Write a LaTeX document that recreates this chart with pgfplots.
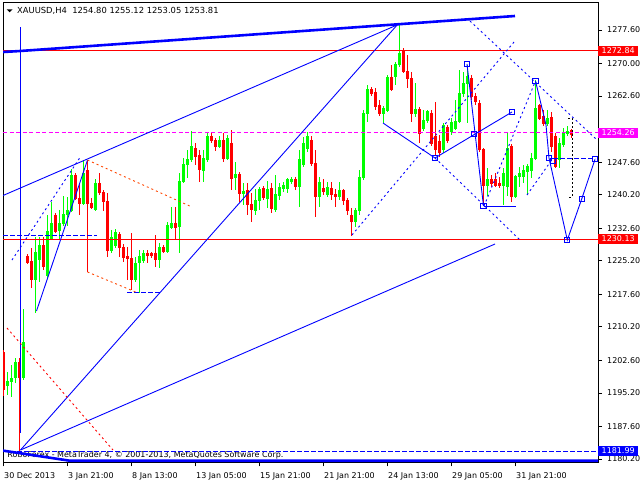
\documentclass[border=0pt]{standalone}
\usepackage{fontspec}
\setmainfont{DejaVu Sans}
\usepackage{pgfplots}
\usepackage{pgfplotstable}
\pgfplotsset{compat=1.18}
\definecolor{mtgreen}{RGB}{0,255,0}
\definecolor{mtred}{RGB}{255,0,0}
\definecolor{mtblue}{RGB}{0,0,255}
\definecolor{mtmag}{RGB}{255,0,255}
\definecolor{mtorange}{RGB}{255,69,0}

% bullish candles: x o h l c
\pgfplotstableread{
x o h l c
7.5 1197.0 1200.0 1194.7 1197.7
11.5 1197.7 1201.6 1194.3 1198.6
15.5 1198.6 1203.1 1197.5 1202.2
23.5 1198.6 1214.3 1198.2 1206.6
35.5 1220.9 1230.5 1213.4 1227.0
39.5 1225.4 1230.6 1220.5 1228.6
47.5 1221.8 1235.6 1221.3 1231.8
51.5 1230.3 1238.6 1229.9 1233.6
59.5 1232.0 1236.7 1229.9 1233.6
63.5 1233.6 1239.8 1233.1 1235.8
67.5 1235.6 1239.8 1233.0 1236.6
71.5 1236.6 1246.0 1236.3 1244.5
83.5 1238.3 1248.1 1237.9 1245.1
95.5 1236.9 1243.7 1236.5 1242.8
111.5 1227.5 1232.2 1227.0 1230.5
115.5 1228.6 1232.4 1228.1 1231.6
135.5 1220.9 1226.1 1220.4 1224.6
139.5 1224.8 1227.7 1218.0 1226.3
143.5 1225.2 1227.7 1224.6 1226.9
159.5 1225.6 1229.2 1223.5 1228.3
167.5 1227.3 1234.1 1227.0 1233.3
171.5 1232.8 1237.5 1232.4 1233.6
179.5 1233.0 1245.1 1226.9 1243.2
183.5 1243.2 1248.5 1242.9 1247.0
187.5 1247.0 1250.4 1244.0 1248.1
191.5 1248.1 1254.7 1247.6 1251.1
203.5 1245.8 1250.4 1243.2 1248.5
207.5 1248.1 1254.5 1247.6 1253.5
219.5 1251.1 1253.5 1250.8 1252.6
227.5 1248.5 1253.8 1248.1 1253.0
235.5 1244.2 1247.7 1241.3 1244.7
243.5 1240.5 1242.8 1237.9 1240.9
255.5 1236.7 1241.4 1235.6 1238.8
259.5 1238.8 1242.0 1236.7 1241.5
267.5 1239.4 1243.4 1237.1 1241.4
275.5 1236.9 1244.8 1236.4 1240.2
279.5 1240.0 1242.8 1239.0 1241.8
283.5 1241.7 1243.2 1240.9 1242.2
287.5 1241.7 1243.9 1240.5 1243.6
291.5 1243.3 1244.3 1242.6 1243.7
299.5 1242.0 1250.4 1237.4 1248.3
303.5 1247.0 1253.4 1246.5 1251.9
307.5 1250.8 1254.5 1249.9 1253.5
319.5 1239.8 1244.3 1237.5 1242.9
327.5 1240.2 1243.2 1239.7 1241.8
339.5 1239.8 1243.2 1239.0 1241.1
355.5 1234.1 1237.1 1232.8 1236.7
359.5 1236.7 1245.8 1235.6 1244.2
363.5 1244.2 1259.4 1243.6 1258.7
367.5 1258.7 1265.1 1256.8 1264.1
383.5 1258.7 1260.4 1256.4 1259.8
387.5 1259.4 1267.4 1259.0 1266.9
395.5 1267.0 1270.3 1265.1 1269.7
399.5 1269.7 1278.7 1269.3 1272.3
415.5 1258.7 1265.5 1257.9 1259.6
423.5 1255.3 1259.4 1254.7 1257.0
427.5 1257.0 1259.4 1256.4 1259.1
443.5 1250.4 1256.4 1249.7 1256.0
451.5 1254.5 1257.6 1253.8 1256.7
455.5 1255.3 1261.7 1254.9 1256.8
459.5 1256.8 1268.5 1256.5 1263.2
463.5 1263.2 1268.1 1262.4 1265.5
467.5 1265.5 1269.7 1256.4 1267.0
487.5 1242.2 1246.2 1239.8 1243.6
503.5 1242.2 1246.2 1237.9 1245.1
507.5 1242.0 1254.5 1239.8 1250.8
515.5 1239.8 1244.7 1239.5 1244.3
519.5 1244.3 1246.6 1242.0 1245.1
523.5 1244.3 1247.0 1242.8 1245.8
527.5 1245.4 1247.3 1240.2 1246.7
531.5 1245.8 1249.6 1243.9 1248.5
535.5 1248.5 1266.3 1248.1 1259.8
547.5 1256.4 1259.4 1255.8 1257.6
559.5 1248.1 1253.1 1246.2 1251.9
563.5 1251.5 1255.3 1251.0 1254.2
567.5 1254.2 1255.7 1253.5 1254.5
}\upc

% bearish candles: x o h l c
\pgfplotstableread{
x o h l c
3.5 1204.3 1205.0 1194.5 1195.9
19.5 1202.2 1203.1 1182.0 1198.6
27.5 1226.1 1226.8 1224.5 1224.8
31.5 1225.0 1228.1 1219.0 1220.9
43.5 1228.6 1230.7 1223.1 1223.9
55.5 1235.6 1236.1 1231.5 1231.8
75.5 1244.5 1245.2 1239.0 1239.4
79.5 1239.4 1242.9 1235.6 1238.3
87.5 1245.7 1248.1 1222.7 1238.3
91.5 1238.3 1239.5 1237.0 1237.4
99.5 1242.8 1245.1 1240.2 1240.7
103.5 1240.7 1241.3 1236.4 1238.6
107.5 1238.6 1240.6 1226.1 1227.5
119.5 1231.1 1231.8 1226.1 1228.3
123.5 1228.3 1229.0 1225.0 1226.0
127.5 1226.3 1228.4 1220.9 1225.8
131.5 1225.8 1231.5 1218.6 1220.9
147.5 1226.8 1227.7 1224.6 1226.5
151.5 1226.8 1227.2 1225.8 1226.5
155.5 1226.8 1231.1 1223.9 1225.6
163.5 1228.3 1228.8 1227.0 1227.3
175.5 1233.6 1237.5 1229.9 1232.8
195.5 1250.8 1252.0 1247.0 1248.8
199.5 1249.2 1250.4 1243.2 1246.0
211.5 1253.5 1254.5 1252.0 1252.6
215.5 1252.6 1253.1 1250.2 1251.1
223.5 1252.6 1254.2 1247.7 1248.5
231.5 1251.9 1254.9 1241.3 1243.9
239.5 1244.7 1245.4 1238.6 1240.5
247.5 1241.1 1242.8 1235.6 1237.9
251.5 1238.1 1240.5 1233.9 1236.9
263.5 1241.7 1242.2 1239.0 1239.6
271.5 1241.7 1242.9 1236.0 1237.1
295.5 1243.6 1244.3 1241.3 1242.0
311.5 1252.5 1253.5 1246.7 1247.3
315.5 1247.3 1250.4 1235.2 1239.8
323.5 1241.7 1243.7 1240.2 1240.9
331.5 1241.7 1243.2 1239.0 1240.2
335.5 1240.3 1241.4 1237.5 1239.8
343.5 1241.1 1241.4 1237.9 1239.0
347.5 1239.0 1239.4 1235.6 1236.7
351.5 1235.6 1237.1 1230.8 1234.1
371.5 1264.1 1264.7 1262.6 1263.2
375.5 1263.4 1264.4 1259.4 1260.2
379.5 1260.4 1261.7 1258.1 1258.7
391.5 1266.9 1269.7 1263.8 1264.1
403.5 1272.7 1273.5 1267.8 1268.1
407.5 1268.1 1271.9 1264.4 1266.6
411.5 1266.6 1268.1 1256.8 1258.7
419.5 1259.6 1260.1 1251.9 1254.2
431.5 1258.7 1259.4 1251.3 1251.9
435.5 1253.4 1261.3 1249.2 1250.4
439.5 1252.2 1253.8 1248.8 1249.9
447.5 1255.5 1256.0 1252.0 1252.6
471.5 1266.6 1267.4 1261.7 1262.5
475.5 1262.5 1263.2 1260.6 1261.3
479.5 1261.0 1261.7 1249.9 1250.4
483.5 1250.4 1250.8 1237.9 1242.4
491.5 1243.6 1244.7 1242.0 1242.8
495.5 1243.6 1245.1 1242.0 1242.4
499.5 1242.8 1244.3 1241.7 1242.4
511.5 1251.1 1251.7 1238.6 1239.8
539.5 1260.4 1260.8 1257.2 1257.6
543.5 1257.9 1259.4 1255.8 1256.4
551.5 1257.8 1259.0 1250.0 1251.1
555.5 1253.4 1254.2 1246.2 1246.6
571.5 1254.80 1255.12 1253.05 1253.81
}\dnc

\tikzset{
  dotb/.style={mtblue, line width=0.9bp, dash pattern=on 2bp off 3bp},
  dashb/.style={mtblue, line width=0.9bp, dash pattern=on 4.5bp off 2.5bp},
  solb/.style={mtblue, line width=0.9bp},
  lab/.style={anchor=west, text=white, inner xsep=3.5bp, inner ysep=1.6bp, text height=6bp, text depth=0.5bp, font=\fontsize{8}{9.6}\selectfont},
}

\begin{document}
\begin{tikzpicture}
\node[anchor=base west, inner sep=0pt, font=\fontsize{8}{9.6}\selectfont] at (4.3bp,5bp) {RoboForex - MetaTrader 4, © 2001-2013, MetaQuotes Software Corp.};
\begin{axis}[
  scale only axis, width=595bp, height=459.6bp,
  at={(0,0)}, anchor=south west,
  xmin=3, xmax=598, ymin=1179.45, ymax=1283.80,
  axis line style={black, line width=0.8bp},
  clip mode=individual,
  tick align=outside, major tick length=4bp,
  every tick/.style={black, line width=0.8bp},
  xtick pos=left, ytick pos=right, yticklabel pos=right,
  xtick={3,67,131,195,259,323,387,451,515},
  xticklabels={30 Dec 2013,3 Jan 21:00,8 Jan 13:00,13 Jan 05:00,15 Jan 21:00,21 Jan 21:00,24 Jan 13:00,29 Jan 05:00,31 Jan 21:00},
  ytick={1180.2,1187.6,1195.2,1202.6,1210.2,1217.6,1225.2,1232.6,1240.2,1247.6,1255.0,1262.6,1270.0,1277.6},
  yticklabels={1180.20,1187.60,1195.20,1202.60,1210.20,1217.60,1225.20,1232.60,1240.20,1247.60,{},1262.60,1270.00,1277.60},
  tick label style={font=\fontsize{8}{9.6}\selectfont},
  xticklabel style={anchor=north west, inner sep=0pt, xshift=1bp, yshift=-6bp},
  yticklabel style={anchor=west, inner sep=0pt, xshift=5bp},
]
% candles: wicks and bodies
\addplot[draw=none, mark=none, forget plot, error bars/.cd, y dir=both, y explicit, error mark=none, error bar style={draw=mtgreen, line width=1bp, solid}]
  table[x=x, y expr={(\thisrow{h}+\thisrow{l})/2}, y error expr={(\thisrow{h}-\thisrow{l})/2}] {\upc};
\addplot[draw=none, mark=none, forget plot, error bars/.cd, y dir=both, y explicit, error mark=none, error bar style={draw=mtgreen, line width=3bp, solid}]
  table[x=x, y expr={(\thisrow{o}+\thisrow{c})/2}, y error expr={(\thisrow{c}-\thisrow{o})/2+0.11}] {\upc};
\addplot[draw=none, mark=none, forget plot, error bars/.cd, y dir=both, y explicit, error mark=none, error bar style={draw=mtred, line width=1bp, solid}]
  table[x=x, y expr={(\thisrow{h}+\thisrow{l})/2}, y error expr={(\thisrow{h}-\thisrow{l})/2}] {\dnc};
\addplot[draw=none, mark=none, forget plot, error bars/.cd, y dir=both, y explicit, error mark=none, error bar style={draw=mtred, line width=3bp, solid}]
  table[x=x, y expr={(\thisrow{o}+\thisrow{c})/2}, y error expr={(\thisrow{o}-\thisrow{c})/2+0.11}] {\dnc};

% horizontal levels
\addplot[mtred, line width=1bp] coordinates {(3,1272.84) (598,1272.84)};
\addplot[mtred, line width=1bp] coordinates {(3,1230.13) (598,1230.13)};
\addplot[mtmag, line width=0.9bp, dash pattern=on 4bp off 2.5bp] coordinates {(3,1254.26) (598,1254.26)};
\addplot[dashb] coordinates {(3,1181.99) (598,1181.99)};

% thick channel lines
\addplot[mtblue, line width=2.6bp] coordinates {(3,1272.60) (20,1272.83) (515,1280.78)};
\addplot[mtblue, line width=2.6bp] coordinates {(3,1182.1) (70,1179.8) (598,1179.8)};

% fan and trend lines
\addplot[solb] coordinates {(20.5,1278.28) (20.5,1186.10)};
\addplot[solb] coordinates {(20.5,1182.24) (495,1229.01)};
\addplot[solb] coordinates {(20.5,1182.24) (398,1278.96)};
\addplot[solb] coordinates {(3,1240.02) (397,1278.73)};
\addplot[solb] coordinates {(36.5,1213.80) (87.5,1248.08)};
\addplot[dotb] coordinates {(12,1225.38) (80,1248.65)};
\addplot[dashb] coordinates {(3,1230.90) (97,1230.90)};
\addplot[dashb] coordinates {(127,1218.05) (160,1218.05)};
\addplot[mtorange, line width=0.9bp, dash pattern=on 2bp off 3bp] coordinates {(87.5,1248.08) (192,1237.41)};
\addplot[mtorange, line width=0.9bp, dash pattern=on 2bp off 3bp] coordinates {(87.5,1222.66) (138,1217.89)};
\addplot[mtred, line width=0.9bp, dash pattern=on 2bp off 3bp] coordinates {(7,1209.94) (113,1182.24)};

% right-hand pattern
\addplot[solb] coordinates {(383,1256.48) (435,1248.54)};
\addplot[solb] coordinates {(435,1248.54) (512,1258.98)};
\addplot[solb] coordinates {(467,1269.88) (483.5,1237.64)};
\addplot[solb] coordinates {(483.5,1237.64) (516,1237.64)};
\addplot[dotb] coordinates {(435,1248.54) (520,1229.92)};
\addplot[dotb] coordinates {(352,1231.06) (514,1274.87)};
\addplot[dotb] coordinates {(470,1279.64) (597,1252.63)};
\addplot[dotb] coordinates {(484,1237.64) (535.5,1266.02)};
\addplot[dotb] coordinates {(527,1240.14) (551,1247.86)};
\addplot[solb] coordinates {(535.5,1266.02) (546,1256.03) (549,1248.54) (567.3,1229.92) (581.7,1239.23) (595,1248.24)};
\addplot[dashb] coordinates {(553,1248.47) (595,1248.47)};
\addplot[black, line width=0.9bp, dash pattern=on 2bp off 2bp] coordinates {(568,1257.62) (572,1257.62) (572,1239.68) (568,1239.68)};
\addplot[only marks, mark=square, mark size=2.6bp, mark options={mtblue, line width=0.9bp, solid}] coordinates {
 (435,1248.54) (467,1269.88) (512,1258.98) (483.5,1237.64) (535.5,1266.02) (549,1248.54)
 (553,1247.86) (567.3,1229.92) (581.7,1239.23) (595,1248.24) (474,1253.99)};

\coordinate (la) at (axis cs:598,1272.84);
\coordinate (lb) at (axis cs:598,1254.26);
\coordinate (lc) at (axis cs:598,1230.13);
\coordinate (ld) at (axis cs:598,1181.99);
\end{axis}
\node[lab, fill=mtred] at (la) {1272.84};
\node[lab, fill=mtmag] at (lb) {1254.26};
\node[lab, fill=mtred] at (lc) {1230.13};
\node[lab, fill=mtblue] at (ld) {1181.99};
\fill (3.7bp,453bp) -- (9.7bp,453bp) -- (6.7bp,450bp) -- cycle;
\node[anchor=base west, inner sep=0pt, font=\fontsize{8.4}{10}\selectfont] at (14bp,448.3bp) {XAUUSD,H4\ \ 1254.80 1255.12 1253.05 1253.81};
\pgfresetboundingbox
\useasboundingbox (-3bp,-17.7bp) rectangle (637bp,462.3bp);
\end{tikzpicture}
\end{document}
